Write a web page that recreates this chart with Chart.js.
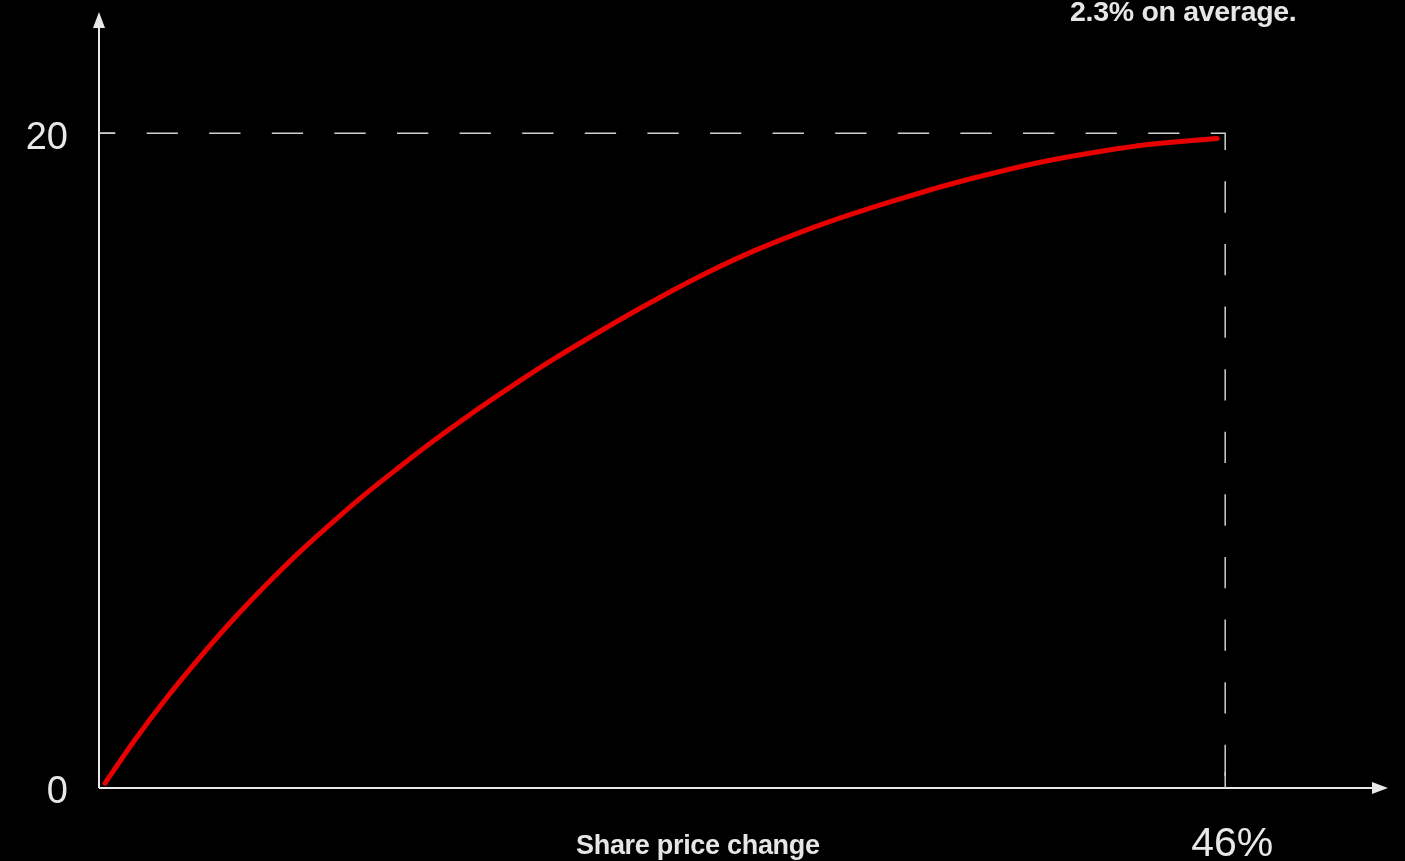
<!DOCTYPE html>
<html>
<head>
<meta charset="utf-8">
<script src="https://cdn.jsdelivr.net/npm/chart.js@4"></script>
<style>
  body { margin:0; background:#000; }
  #wrap { position:relative; width:1405px; height:861px; overflow:hidden; }
  .note { position:absolute; font-family:'Liberation Sans', Arial, sans-serif; font-weight:bold; color:#e6e6e6; white-space:nowrap; letter-spacing:-0.3px; }
</style>
</head>
<body>
<div id="wrap">
  <canvas id="curveChart"></canvas>
  <div class="note" id="topNote" style="left:1070px; top:-5px; font-size:28.5px;">2.3% on average.</div>
  <div class="note" id="xTitle" style="left:576px; top:830px; font-size:27px;">Share price change</div>
</div>
<script>
// share price change (%) and value
const priceChange = [0.25, 1.39, 2.78, 4.13, 5.47, 6.86, 8.21, 9.56, 10.95, 12.3, 13.64, 15.03, 17.2, 18.42, 20.47, 22.51, 24.55, 26.59, 28.64, 30.68, 32.72, 34.76, 36.81, 38.85, 40.89, 42.93, 45.67];
const curveValue  = [0.15, 1.39, 2.77, 4.0, 5.14, 6.23, 7.22, 8.13, 9.02, 9.82, 10.59, 11.34, 12.44, 13.03, 13.95, 14.82, 15.63, 16.35, 16.97, 17.51, 17.99, 18.44, 18.83, 19.17, 19.44, 19.66, 19.84];

// dashed guide: from the 20 level across to 46%, then down
const guideX = [0, 46, 46];
const guideY = [20, 20, 0];

const yTicks = [0, 20];
const xTicks = [46];

const xMax = 52.65;
const yMax = 23.7;

const textColor = '#e8e8e8';
const axisColor = '#e8e8e8';

function toPoints(xs, ys){
  return xs.map((x, i) => ({x: x, y: ys[i]}));
}

function noPadding(s){
  s.paddingTop = 0;
  s.paddingBottom = 0;
  s.paddingLeft = 0;
  s.paddingRight = 0;
}

const axesPlugin = {
  id:'axesArrows',
  afterDraw(chart){
    const ctx = chart.ctx;
    const a = chart.chartArea;
    const xs = chart.scales.x;
    const ys = chart.scales.y;
    ctx.save();
    ctx.strokeStyle = axisColor;
    ctx.fillStyle = axisColor;
    ctx.lineWidth = 2;

    // y axis
    ctx.beginPath();
    ctx.moveTo(a.left, a.bottom);
    ctx.lineTo(a.left, a.top + 15);
    ctx.stroke();
    ctx.beginPath();
    ctx.moveTo(a.left, a.top);
    ctx.lineTo(a.left - 6, a.top + 16);
    ctx.lineTo(a.left + 6, a.top + 16);
    ctx.closePath();
    ctx.fill();

    // x axis
    ctx.beginPath();
    ctx.moveTo(a.left, a.bottom);
    ctx.lineTo(a.right - 15, a.bottom);
    ctx.stroke();
    ctx.beginPath();
    ctx.moveTo(a.right, a.bottom);
    ctx.lineTo(a.right - 16, a.bottom - 6);
    ctx.lineTo(a.right - 16, a.bottom + 6);
    ctx.closePath();
    ctx.fill();

    // small ticks
    ctx.lineWidth = 1.5;
    ctx.strokeStyle = '#cfcfcf';
    xTicks.forEach(v => {
      const px = xs.getPixelForValue(v);
      ctx.beginPath();
      ctx.moveTo(px, a.bottom);
      ctx.lineTo(px, a.bottom - 16);
      ctx.stroke();
    });
    yTicks.filter(v => v > 0).forEach(v => {
      const py = ys.getPixelForValue(v);
      ctx.beginPath();
      ctx.moveTo(a.left, py);
      ctx.lineTo(a.left + 16, py);
      ctx.stroke();
    });
    ctx.restore();
  }
};

new Chart(document.getElementById('curveChart'), {
  type:'line',
  data:{
    datasets:[
      {
        data: toPoints(priceChange, curveValue),
        borderColor:'#e60000',
        borderWidth:5,
        borderCapStyle:'round',
        pointRadius:0,
        tension:0.4,
        cubicInterpolationMode:'monotone',
        clip:false
      },
      {
        data: toPoints(guideX, guideY),
        borderColor:'#cfcfcf',
        borderWidth:1.5,
        borderDash:[31.3, 31.3],
        borderDashOffset:15,
        pointRadius:0,
        tension:0
      }
    ]
  },
  options:{
    responsive:true,
    maintainAspectRatio:false,
    animation:false,
    layout:{ padding:{ top:12, right:17, left:0, bottom:0 } },
    plugins:{ legend:{ display:false }, tooltip:{ enabled:false } },
    scales:{
      x:{
        type:'linear',
        min:0,
        max:xMax,
        grid:{ display:false, drawTicks:false },
        border:{ display:false },
        afterBuildTicks: s => { s.ticks = xTicks.map(v => ({value:v})); },
        afterFit: s => { s.height = 73; noPadding(s); },
        ticks:{
          autoSkip:false,
          maxRotation:0,
          padding:32,
          labelOffset:7,
          color:textColor,
          font:{ family:'Liberation Sans', size:41 },
          callback: v => v + '%'
        }
      },
      y:{
        type:'linear',
        min:0,
        max:yMax,
        grid:{ display:false, drawTicks:false },
        border:{ display:false },
        afterBuildTicks: s => { s.ticks = yTicks.map(v => ({value:v})); },
        afterFit: s => { s.width = 99; noPadding(s); },
        ticks:{
          autoSkip:false,
          padding:31,
          labelOffset:5,
          color:textColor,
          font:{ family:'Liberation Sans', size:38 },
          callback: v => v
        }
      }
    }
  },
  plugins:[axesPlugin]
});
</script>
</body>
</html>
